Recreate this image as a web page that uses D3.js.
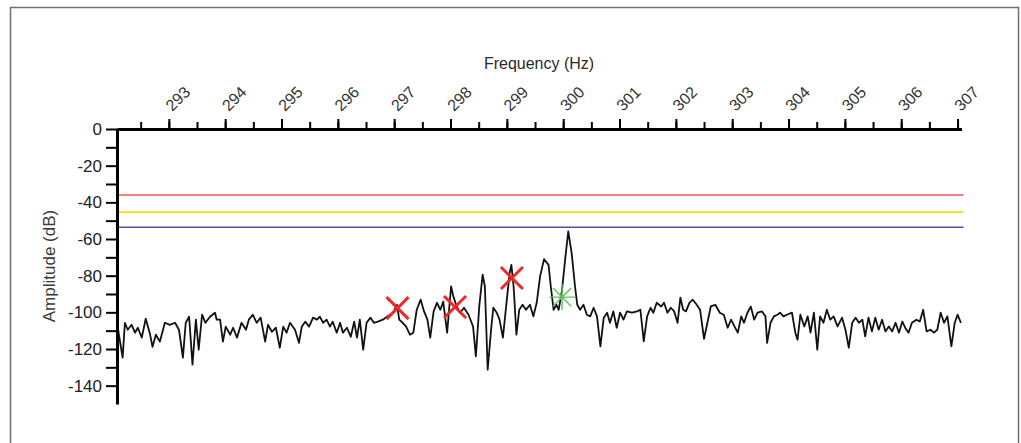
<!DOCTYPE html>
<html>
<head>
<meta charset="utf-8">
<script src="https://cdn.jsdelivr.net/npm/d3@7"></script>
<style>
  body { margin: 0; background: #fff; }
  svg { display: block; font-family: "Liberation Sans", Arial, sans-serif; }
</style>
</head>
<body>
<svg id="chart" width="1021" height="443"></svg>
<script>
// tick labels
const freqTicks = [293, 294, 295, 296, 297, 298, 299, 300, 301, 302, 303, 304, 305, 306, 307]
const ampTicks = [0, -20, -40, -60, -80, -100, -120, -140]

// spectrum trace (Hz, dB)
const freq = [
  292.10, 292.18, 292.22, 292.27, 292.34, 292.40, 292.45, 292.52, 292.59, 292.66,
  292.71, 292.77, 292.84, 292.93, 293.02, 293.11, 293.18, 293.25, 293.30, 293.36,
  293.42, 293.48, 293.53, 293.59, 293.65, 293.73, 293.82, 293.85, 293.91, 293.96,
  294.01, 294.09, 294.14, 294.21, 294.29, 294.37, 294.42, 294.49, 294.56, 294.63,
  294.71, 294.76, 294.83, 294.90, 294.97, 295.03, 295.09, 295.15, 295.24, 295.31,
  295.36, 295.42, 295.49, 295.56, 295.63, 295.68, 295.74, 295.80, 295.86, 295.91,
  295.98, 296.04, 296.09, 296.16, 296.23, 296.29, 296.34, 296.39, 296.45, 296.51,
  296.58, 296.64, 296.71, 296.80, 296.87,
  296.98, 297.05, 297.09, 297.15, 297.21, 297.28, 297.34, 297.40, 297.47, 297.53,
  297.59, 297.64, 297.70, 297.76, 297.82, 297.87, 297.94, 298.01, 298.05, 298.11,
  298.17, 298.24, 298.32, 298.40, 298.45, 298.51, 298.57, 298.61, 298.66, 298.72,
  298.76, 298.82, 298.87, 298.93, 298.99, 299.05, 299.08, 299.12, 299.17, 299.22,
  299.28, 299.34, 299.41, 299.47, 299.53, 299.59, 299.66, 299.74, 299.78, 299.83,
  299.88, 299.92, 299.98, 300.04, 300.09, 300.15, 300.21, 300.25, 300.30, 300.36,
  300.42, 300.48, 300.54, 300.60, 300.66,
  300.72, 300.78, 300.83, 300.89, 300.95, 301.01, 301.07, 301.13, 301.22, 301.31,
  301.37, 301.43, 301.49, 301.55, 301.60, 301.66, 301.74, 301.79, 301.85, 301.91,
  301.97, 302.03, 302.08, 302.13, 302.18, 302.24, 302.30, 302.37, 302.43, 302.50,
  302.56, 302.62, 302.70, 302.78, 302.85, 302.92, 302.98, 303.04, 303.10, 303.16,
  303.21, 303.27, 303.33, 303.39, 303.45, 303.53, 303.59, 303.62, 303.68, 303.74,
  303.80, 303.85, 303.91, 303.97, 304.06, 304.12, 304.16, 304.21, 304.28, 304.34,
  304.39, 304.45, 304.51, 304.56, 304.62, 304.68, 304.74, 304.80, 304.87, 304.95,
  305.01, 305.07, 305.13, 305.19, 305.25, 305.31, 305.36, 305.42, 305.48, 305.54,
  305.60, 305.66, 305.72, 305.78, 305.84, 305.90, 305.96, 306.02, 306.07, 306.13,
  306.19, 306.27, 306.33, 306.39, 306.45, 306.52, 306.58, 306.64, 306.70, 306.76,
  306.82, 306.89, 306.95, 307.00, 307.06
]
const amp = [
  -109.5, -124.7, -105.7, -109.5, -106.8, -111.1, -108.4, -113.8, -103.5, -111.1,
  -118.8, -112.2, -116.0, -105.7, -106.8, -105.7, -109.5, -124.7, -105.7, -102.4,
  -128.5, -104.0, -120.4, -101.3, -105.7, -102.4, -100.2, -104.0, -104.0, -116.0,
  -107.8, -112.2, -108.4, -113.8, -105.7, -109.5, -104.0, -101.3, -105.7, -102.9,
  -116.0, -106.8, -110.6, -108.4, -119.3, -107.8, -111.1, -105.7, -109.5, -116.6,
  -107.8, -105.1, -107.8, -102.9, -104.0, -102.4, -105.7, -104.0, -107.8, -105.1,
  -111.1, -105.7, -111.1, -108.4, -113.3, -105.1, -113.8, -104.0, -120.4, -105.7,
  -102.9, -105.7, -105.1, -104.0, -102.4,
  -100.2, -95.9, -104.0, -105.7, -107.7, -112.2, -111.1, -98.6, -93.1, -99.5,
  -104.0, -113.8, -99.5, -94.8, -98.6, -94.2, -111.1, -85.9, -91.3, -96.8,
  -100.2, -97.5, -101.3, -107.7, -124.0, -96.8, -79.5, -85.9, -131.3, -109.5,
  -97.5, -100.2, -104.0, -113.8, -95.9, -78.4, -74.1, -85.9, -112.2, -98.6,
  -95.9, -98.6, -95.9, -102.2, -94.8, -80.4, -71.0, -74.1, -85.9, -98.6,
  -95.9, -98.6, -87.7, -69.6, -55.9, -67.7, -85.9, -95.9, -98.6, -95.9,
  -101.3, -102.2, -97.5, -102.2, -118.6,
  -102.9, -100.2, -105.7, -99.5, -108.4, -100.2, -104.0, -99.5, -100.2, -99.5,
  -98.6, -115.8, -102.2, -97.5, -100.2, -94.8, -96.8, -94.8, -100.2, -97.5,
  -99.5, -105.7, -92.0, -98.6, -99.5, -94.8, -93.1, -95.9, -98.6, -114.5,
  -105.7, -96.8, -95.9, -100.2, -101.3, -108.4, -104.0, -107.7, -111.1, -102.2,
  -105.7, -100.2, -96.8, -104.0, -100.2, -99.5, -102.2, -116.7, -105.7, -102.2,
  -101.3, -100.2, -102.2, -101.3, -100.2, -111.1, -114.9, -101.3, -107.7, -102.2,
  -111.1, -100.2, -120.4, -102.2, -105.7, -98.6, -104.0, -102.2, -107.7, -102.9,
  -109.5, -119.3, -105.7, -102.9, -105.7, -104.0, -113.1, -102.9, -110.4, -102.9,
  -109.5, -104.0, -110.4, -107.7, -110.4, -105.7, -111.1, -105.0, -108.4, -111.1,
  -105.7, -104.0, -105.0, -98.6, -110.4, -109.5, -111.1, -109.5, -100.2, -105.7,
  -102.2, -118.6, -105.7, -101.3, -105.7
]

// limit lines (dB)
const limitLevels = [-36.0, -45.3, -53.6]

// marked peaks
const peakFreq = [297.06, 298.08, 299.09]
const peakAmp = [-97.7, -97.1, -81.3]
const targetFreq = [299.98]
const targetAmp = [-91.7]

const svg = d3.select('#chart')

// frame
svg.append('rect')
  .attr('x', 10.5).attr('y', 7.5)
  .attr('width', 1008).attr('height', 470)
  .attr('fill', 'none')
  .attr('stroke', '#707070')
  .attr('stroke-width', 1.5)

const x = d3.scaleLinear().domain([292.08, 307.07]).range([117, 961.5])
const y = d3.scaleLinear().domain([0, -150]).range([129, 404])

// limit lines
const limitColors = ['#f25353', '#f2e20a', '#4f4fae']
svg.selectAll('.limit')
  .data(limitLevels)
  .enter()
  .append('line')
  .attr('class', 'limit')
  .attr('x1', x.range()[0])
  .attr('x2', x.range()[1] + 2)
  .attr('y1', d => y(d))
  .attr('y2', d => y(d))
  .style('stroke', (d, i) => limitColors[i])
  .style('stroke-width', 1.7)

// trace
const line = d3.line()
  .x((d, i) => x(freq[i]))
  .y(d => y(d))

svg.append('path')
  .datum(amp)
  .attr('d', line)
  .attr('fill', 'none')
  .attr('stroke', '#111')
  .attr('stroke-width', 1.8)
  .attr('stroke-linejoin', 'round')

// x axis, minor then major ticks
svg.append('g')
  .attr('transform', `translate(0, ${y(0)})`)
  .call(d3.axisTop(x)
    .tickValues(d3.range(292.5, 307.01, 0.5))
    .tickSize(7)
    .tickSizeOuter(0)
    .tickFormat(''))

const xMajor = svg.append('g')
  .attr('transform', `translate(0, ${y(0)})`)
  .call(d3.axisTop(x)
    .tickValues(freqTicks)
    .tickSize(10)
    .tickSizeOuter(0)
    .tickFormat(d => d))

xMajor.attr('font-size', 16)
xMajor.selectAll('text')
  .attr('x', 0).attr('y', 0).attr('dy', 0)
  .attr('text-anchor', 'start')
  .attr('transform', 'translate(3, -17) rotate(-45)')
  .style('fill', '#333')

// y axis
const yAxis = svg.append('g')
  .attr('transform', `translate(${x.range()[0]}, 0)`)
  .call(d3.axisLeft(y)
    .tickValues(d3.range(0, -141, -10))
    .tickSize(11)
    .tickPadding(4)
    .tickSizeOuter(0)
    .tickFormat(d => ampTicks.includes(d) ? String(d) : ''))

yAxis.attr('font-size', 17)
yAxis.selectAll('text')
  .style('fill', '#222')

svg.selectAll('.domain')
  .attr('stroke', '#000')
  .attr('stroke-width', 3)
svg.selectAll('.tick line')
  .attr('stroke', '#000')
  .attr('stroke-width', 2)

// axis titles
svg.append('text')
  .attr('x', 539)
  .attr('y', 69)
  .attr('text-anchor', 'middle')
  .style('font-size', '16px')
  .style('fill', '#2a2a2a')
  .text('Frequency (Hz)')

svg.append('text')
  .attr('transform', 'translate(55, 266) rotate(-90)')
  .attr('text-anchor', 'middle')
  .style('font-size', '17px')
  .style('fill', '#3a3a3a')
  .text('Amplitude (dB)')

// red cross markers
const r = 11
svg.selectAll('.peak')
  .data(peakFreq)
  .enter()
  .append('path')
  .attr('class', 'peak')
  .attr('transform', (d, i) => `translate(${x(d)}, ${y(peakAmp[i])})`)
  .attr('d', `M${-r},${-r}L${r},${r}M${-r},${r}L${r},${-r}`)
  .attr('stroke', '#ec2a2a')
  .attr('stroke-width', 3)
  .attr('fill', 'none')

// green asterisk marker
const s = 13
svg.selectAll('.target')
  .data(targetFreq)
  .enter()
  .append('path')
  .attr('class', 'target')
  .attr('transform', (d, i) => `translate(${x(d)}, ${y(targetAmp[i])})`)
  .attr('d', `M${-s},0L${s},0M0,${-s}L0,${s}M${-s * 0.7},${-s * 0.7}L${s * 0.7},${s * 0.7}M${-s * 0.7},${s * 0.7}L${s * 0.7},${-s * 0.7}`)
  .attr('stroke', '#5cc45c')
  .attr('stroke-width', 1.4)
  .attr('fill', 'none')
</script>
</body>
</html>
